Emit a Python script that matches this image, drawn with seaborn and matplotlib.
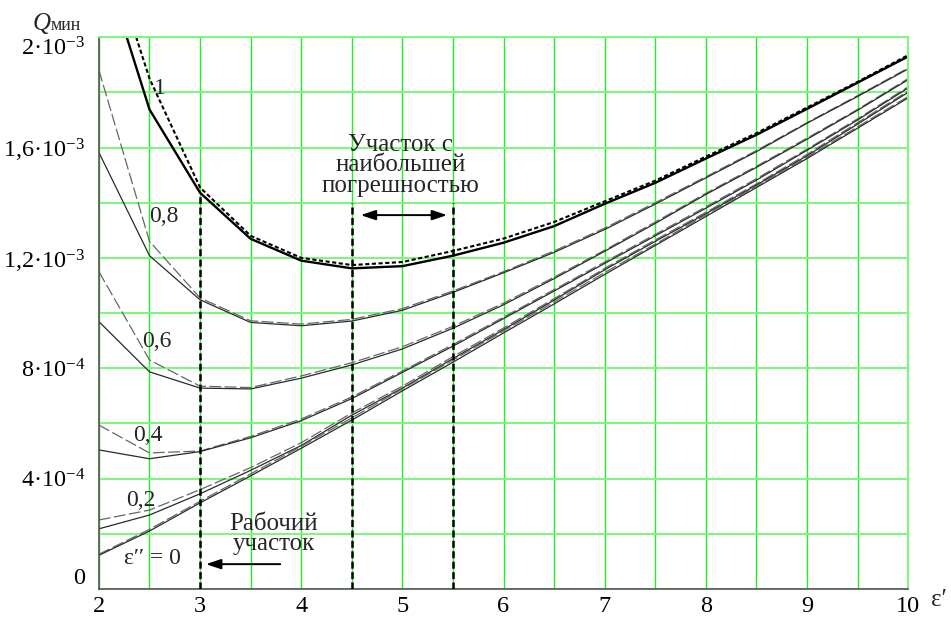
import numpy as np
import matplotlib
matplotlib.use("Agg")
import matplotlib.pyplot as plt
import seaborn as sns

# -------------------- DATA (Q in units of 1e-3) --------------------
eps1 = [2, 2.5, 3, 3.5, 4, 4.5, 5, 5.5, 6, 6.5, 7, 7.5, 8, 8.5, 9, 9.5, 10]

q1_solid = [2.32, 1.738, 1.436, 1.269, 1.19, 1.162, 1.17, 1.208, 1.255, 1.315, 1.396, 1.472, 1.56, 1.646, 1.74, 1.835, 1.93]
q1_dash = [2.42, 1.85, 1.455, 1.28, 1.2, 1.174, 1.185, 1.225, 1.27, 1.33, 1.405, 1.48, 1.567, 1.652, 1.745, 1.838, 1.935]
q08_solid = [1.582, 1.208, 1.048, 0.966, 0.954, 0.971, 1.01, 1.075, 1.146, 1.22, 1.303, 1.395, 1.49, 1.585, 1.688, 1.785, 1.885]
q08_dash = [1.88, 1.26, 1.055, 0.972, 0.96, 0.977, 1.016, 1.08, 1.15, 1.225, 1.308, 1.4, 1.494, 1.589, 1.69, 1.788, 1.888]
q06_solid = [0.969, 0.787, 0.728, 0.725, 0.764, 0.812, 0.87, 0.945, 1.03, 1.125, 1.224, 1.325, 1.43, 1.528, 1.63, 1.735, 1.846]
q06_dash = [1.15, 0.83, 0.735, 0.73, 0.772, 0.82, 0.878, 0.952, 1.036, 1.13, 1.228, 1.33, 1.434, 1.532, 1.634, 1.738, 1.85]
q04_solid = [0.504, 0.472, 0.498, 0.548, 0.61, 0.69, 0.785, 0.88, 0.98, 1.08, 1.18, 1.28, 1.38, 1.482, 1.59, 1.70, 1.816]
q04_dash = [0.594, 0.493, 0.5, 0.553, 0.616, 0.696, 0.79, 0.886, 0.985, 1.085, 1.185, 1.285, 1.385, 1.487, 1.594, 1.704, 1.82]
q02_solid = [0.218, 0.268, 0.345, 0.43, 0.52, 0.63, 0.728, 0.835, 0.94, 1.047, 1.157, 1.26, 1.36, 1.464, 1.57, 1.685, 1.80]
q02_dash = [0.25, 0.286, 0.36, 0.44, 0.53, 0.638, 0.735, 0.842, 0.946, 1.052, 1.162, 1.265, 1.365, 1.468, 1.575, 1.69, 1.805]
q0_solid = [0.122, 0.21, 0.312, 0.41, 0.51, 0.612, 0.718, 0.822, 0.928, 1.033, 1.14, 1.245, 1.35, 1.455, 1.56, 1.67, 1.78]
q0_dash = [0.126, 0.216, 0.318, 0.417, 0.517, 0.62, 0.725, 0.83, 0.935, 1.04, 1.147, 1.25, 1.356, 1.46, 1.565, 1.675, 1.785]

curve_names = ["1", "0,8", "0,6", "0,4", "0,2", "ε′′ = 0"]
label_x = [2.6, 2.64, 2.57, 2.48, 2.41, 2.53]
label_y = [1.815, 1.349, 0.896, 0.558, 0.322, 0.112]

boundary_x = [3, 4.5, 5.5]
boundary_top = [1.435, 1.40, 1.40]

x_ticks = [2, 3, 4, 5, 6, 7, 8, 9, 10]
y_ticks = [0, 0.4, 0.8, 1.2, 1.6, 2.0]
y_tick_labels = ["0", "4·10$^{-4}$", "8·10$^{-4}$", "1,2·10$^{-3}$", "1,6·10$^{-3}$", "2·10$^{-3}$"]

# -------------------- STYLE --------------------
sns.set_style("white")
plt.rcParams['font.family'] = ['Liberation Serif', 'DejaVu Serif']
plt.rcParams['mathtext.fontset'] = 'custom'
plt.rcParams['mathtext.rm'] = 'Liberation Serif'
plt.rcParams['mathtext.it'] = 'Liberation Serif:italic'
plt.rcParams['lines.scale_dashes'] = False

fig = plt.figure(figsize=(9.51, 6.19), dpi=100)
ax = fig.add_axes([0.104, 0.0485, 0.851, 0.8915])

# curves: (solid, dashed) pairs
pairs = [(q1_solid, q1_dash), (q08_solid, q08_dash), (q06_solid, q06_dash),
         (q04_solid, q04_dash), (q02_solid, q02_dash), (q0_solid, q0_dash)]

for i, (sol, das) in enumerate(pairs):
    if i == 0:
        sns.lineplot(x=eps1, y=das, ax=ax, color='black', lw=1.5)
        ax.lines[-1].set_dashes([3, 1.8])
        sns.lineplot(x=eps1, y=sol, ax=ax, color='black', lw=1.7)
    else:
        sns.lineplot(x=eps1, y=das, ax=ax, color='#666666', lw=0.9)
        ax.lines[-1].set_dashes([8.5, 2.5])
        sns.lineplot(x=eps1, y=sol, ax=ax, color='#2a2a2a', lw=0.9)

# boundaries
ax.vlines(boundary_x, 0, boundary_top, colors='black', lw=1.8, linestyles=(0, (5, 2.5)), zorder=4)

# curve labels
for name, lx, ly in zip(curve_names, label_x, label_y):
    ax.text(lx, ly, name, fontsize=17, ha='center', va='center')

# annotations
ax.text(4.98, 1.535, "Участок с\nнаибольшей\nпогрешностью", fontsize=18,
        ha='center', va='center', linespacing=0.9)
ax.annotate("", xy=(5.47, 1.355), xytext=(4.56, 1.355),
            arrowprops=dict(arrowstyle='<|-|>,head_length=0.9,head_width=0.3', color='black', lw=1.4))
ax.text(3.73, 0.2, "Рабочий\nучасток", fontsize=18, ha='center', va='center', linespacing=0.9)
ax.annotate("", xy=(3.03, 0.09), xytext=(3.82, 0.09),
            arrowprops=dict(arrowstyle='-|>,head_length=0.9,head_width=0.3', color='black', lw=1.4))

# axes
ax.set_xlim(2, 10)
ax.set_ylim(0, 2)
ax.set_xticks(x_ticks)
ax.set_xticks(np.arange(2, 10.01, 0.5), minor=True)
ax.set_yticks(y_ticks)
ax.set_yticks(np.arange(0, 2.01, 0.2), minor=True)
ax.set_yticklabels(y_tick_labels)
ax.set_xticklabels([str(t) for t in x_ticks])
ax.tick_params(axis='both', which='both', labelsize=17.5, colors='#555555', labelcolor='black')
ax.tick_params(axis='y', which='both', direction='out', length=5, width=1, pad=5)
ax.tick_params(axis='x', which='both', direction='inout', length=8, width=1, pad=1)

ylabels = ax.get_yticklabels()
ylabels[0].set_va('bottom')
ylabels[-1].set_va('top')

ax.xaxis.grid(True, which='both', color='#22ee22', lw=1.0)
ax.yaxis.grid(True, which='both', color='#80f580', lw=1.5)
ax.set_axisbelow(True)

for s in ['left', 'bottom']:
    ax.spines[s].set_color('#555555')
    ax.spines[s].set_linewidth(1.2)
for s in ['top', 'right']:
    ax.spines[s].set_color('#80f580')
    ax.spines[s].set_linewidth(1.5)

ax.set_xlabel("")
ax.set_ylabel("")
ax.text(1.038, -0.02, "ε′", transform=ax.transAxes, fontsize=18, ha='center', va='center')
fig.text(0.034, 0.951, "Q", fontsize=18, style='italic', va='baseline')
fig.text(0.053, 0.951, "мин", fontsize=13, va='baseline')

fig.savefig("out.png", dpi=100)
